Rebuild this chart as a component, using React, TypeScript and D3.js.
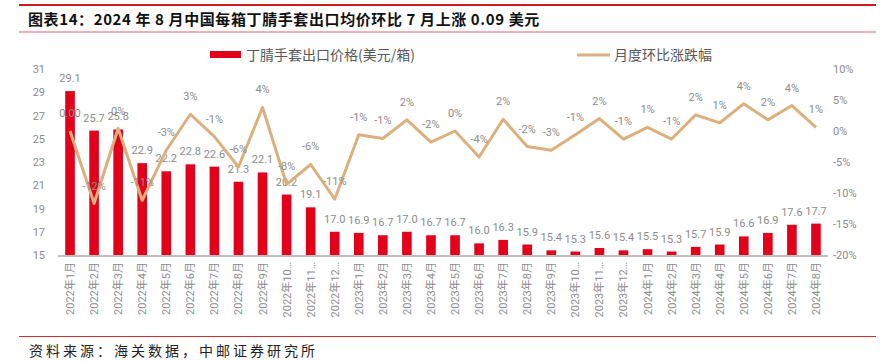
import React, { useRef, useEffect } from 'react';
import * as d3 from 'd3';

const months = [
  '2022年1月', '2022年2月', '2022年3月', '2022年4月', '2022年5月', '2022年6月', '2022年7月', '2022年8月',
  '2022年9月', '2022年10…', '2022年11…', '2022年12…', '2023年1月', '2023年2月', '2023年3月', '2023年4月',
  '2023年5月', '2023年6月', '2023年7月', '2023年8月', '2023年9月', '2023年10…', '2023年11…', '2023年12…',
  '2024年1月', '2024年2月', '2024年3月', '2024年4月', '2024年5月', '2024年6月', '2024年7月', '2024年8月',
];

// 丁腈手套出口价格(美元/箱)
const prices = [
  29.1, 25.7, 25.8, 22.9, 22.2, 22.8, 22.6, 21.3, 22.1, 20.2, 19.1, 17.0, 16.9, 16.7, 17.0, 16.7,
  16.7, 16.0, 16.3, 15.9, 15.4, 15.3, 15.6, 15.4, 15.5, 15.3, 15.7, 15.9, 16.6, 16.9, 17.6, 17.7,
];

// 月度环比涨跌幅 (%)
const changes = [
  0, -11.7, 0.4, -11.2, -3.1, 2.7, -0.9, -5.8, 3.8, -8.6, -5.4, -11.0, -0.6, -1.2, 1.8, -1.8,
  0, -4.2, 1.9, -2.5, -3.1, -0.6, 2.0, -1.3, 0.6, -1.3, 2.6, 1.3, 4.4, 1.8, 4.1, 0.6,
];

const changeLabels = [
  '0.00', '-12%', '0%', '-11%', '-3%', '3%', '-1%', '-6%', '4%', '-8%', '-6%', '-11%', '-1%', '-1%', '2%', '-2%',
  '0%', '-4%', '2%', '-2%', '-3%', '-1%', '2%', '-1%', '1%', '-1%', '2%', '1%', '4%', '2%', '4%', '1%',
];

const leftTicks = [15, 17, 19, 21, 23, 25, 27, 29, 31];
const rightTicks = [-20, -15, -10, -5, 0, 5, 10];

const W = 880;
const H = 361;
const BAR = '#E2001A';
const LINE = '#DBB07C';
const GREY = '#8C8C8C';
const FONT = 'Roboto, "Noto Sans CJK SC", sans-serif';
const CJK = '"Noto Sans CJK SC", sans-serif';

export default function App() {
  const ref = useRef<SVGSVGElement | null>(null);

  useEffect(() => {
    if (!ref.current) return;
    const svg = d3.select(ref.current);
    svg.selectAll('*').remove();

    const left = 58, right = 828, top = 69, bottom = 255;

    const x = d3.scaleBand<string>().domain(months).range([left, right]).paddingInner(0.6).paddingOuter(0.3);
    const yL = d3.scaleLinear().domain([15, 31]).range([bottom, top]);
    const yR = d3.scaleLinear().domain([-20, 10]).range([bottom, top]);
    const cx = (m: string) => (x(m) as number) + x.bandwidth() / 2;

    // header lines + title
    svg.append('line').attr('x1', 19).attr('x2', 876).attr('y1', 5).attr('y2', 5)
      .attr('stroke', '#D2191F').attr('stroke-width', 2);
    svg.append('line').attr('x1', 19).attr('x2', 876).attr('y1', 32).attr('y2', 32)
      .attr('stroke', '#E8999D').attr('stroke-width', 1.5);
    svg.append('text').attr('x', 28).attr('y', 25)
      .style('font-family', CJK).style('font-size', '15px').style('font-weight', 'bold')
      .style('letter-spacing', '0.6px')
      .attr('fill', '#111')
      .text('图表14：2024 年 8 月中国每箱丁腈手套出口均价环比 7 月上涨 0.09 美元');

    // footer
    svg.append('line').attr('x1', 19).attr('x2', 876).attr('y1', 336.5).attr('y2', 336.5)
      .attr('stroke', '#D42A2A').attr('stroke-width', 1);
    svg.append('text').attr('x', 29).attr('y', 356)
      .style('font-family', CJK).style('font-size', '14px').style('letter-spacing', '3px')
      .attr('fill', '#222')
      .text('资料来源：海关数据，中邮证券研究所');

    // left axis labels
    svg.append('g').selectAll('text').data(leftTicks).join('text')
      .attr('x', 45).attr('y', d => yL(d) + 4).attr('text-anchor', 'end')
      .style('font-family', FONT).style('font-size', '11px').attr('fill', GREY)
      .text(d => d);

    // right axis labels
    svg.append('g').selectAll('text').data(rightTicks).join('text')
      .attr('x', 833).attr('y', d => yR(d) + 4)
      .style('font-family', FONT).style('font-size', '11px').attr('fill', GREY)
      .text(d => `${d}%`);

    // bars
    svg.append('g').selectAll('rect').data(prices).join('rect')
      .attr('x', (_, i) => x(months[i]) as number)
      .attr('y', d => yL(d))
      .attr('width', x.bandwidth())
      .attr('height', d => bottom - yL(d))
      .attr('fill', BAR);

    // axis line
    svg.append('line').attr('x1', left).attr('x2', right).attr('y1', bottom + 1).attr('y2', bottom + 1)
      .attr('stroke', '#BFBFBF').attr('stroke-width', 2);

    // x labels
    svg.append('g').selectAll('text').data(months).join('text')
      .attr('transform', d => `translate(${cx(d) + 4},${bottom + 7}) rotate(-90)`)
      .attr('text-anchor', 'end')
      .style('font-family', FONT).style('font-size', '11px').attr('fill', GREY)
      .text(d => d);

    // bar labels
    svg.append('g').selectAll('text').data(prices).join('text')
      .attr('x', (_, i) => cx(months[i]))
      .attr('y', d => yL(d) - 9)
      .attr('text-anchor', 'middle')
      .style('font-family', FONT).style('font-size', '11px').attr('fill', GREY)
      .text(d => d.toFixed(1));

    // line
    const line = d3.line<number>()
      .x((_, i) => cx(months[i]))
      .y(d => yR(d));
    svg.append('path').datum(changes).attr('d', line)
      .attr('fill', 'none').attr('stroke', LINE).attr('stroke-width', 3).attr('stroke-linejoin', 'round');

    // line labels
    svg.append('g').selectAll('text').data(changes).join('text')
      .attr('x', (_, i) => cx(months[i]))
      .attr('y', d => yR(d) - 14)
      .attr('text-anchor', 'middle')
      .style('font-family', FONT).style('font-size', '11px').attr('fill', GREY)
      .text((_, i) => changeLabels[i]);

    // legend
    const lg = svg.append('g').style('font-family', CJK).style('font-size', '14px');
    lg.append('rect').attr('x', 210).attr('y', 51).attr('width', 31).attr('height', 7).attr('fill', BAR);
    lg.append('text').attr('x', 246).attr('y', 60).attr('fill', '#595959').text('丁腈手套出口价格(美元/箱)');
    lg.append('line').attr('x1', 577).attr('x2', 610).attr('y1', 55).attr('y2', 55)
      .attr('stroke', LINE).attr('stroke-width', 3);
    lg.append('text').attr('x', 614).attr('y', 60).attr('fill', '#595959').text('月度环比涨跌幅');
  }, []);

  return (
    <div style={{ position: 'absolute', left: 0, top: 0, width: W, height: H, background: '#fff' }}>
      <svg ref={ref} width={W} height={H} />
    </div>
  );
}
